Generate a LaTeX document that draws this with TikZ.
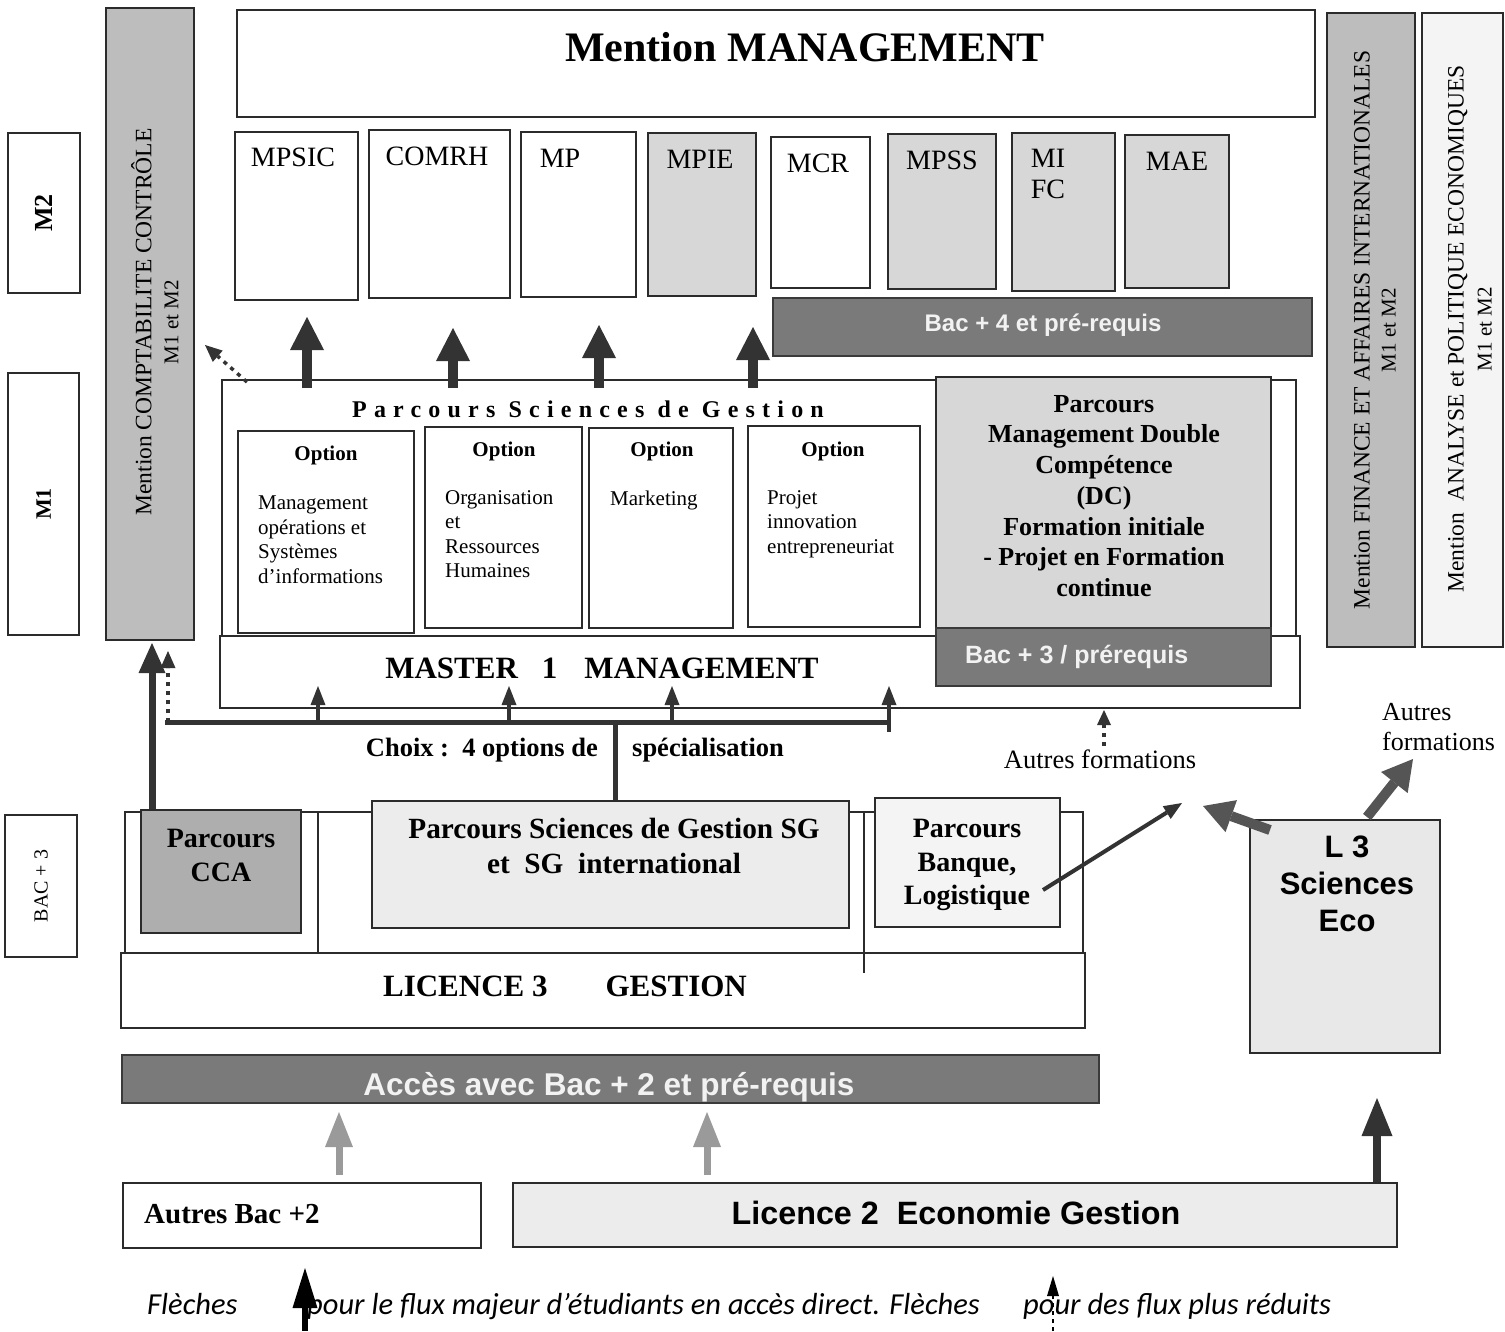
\documentclass[tikz,border=0pt]{standalone}
\usepackage{fontspec}
\setmainfont{Liberation Serif}
\newfontfamily\arialf{Liberation Sans}
\newfontfamily\legendf{Carlito}
\newfontfamily\spacedf[LetterSpace=30]{Liberation Serif}
\usetikzlibrary{arrows.meta,fit}
\newcommand\fsz[2]{\fontsize{#1pt}{#2pt}\selectfont}

\definecolor{edge}{HTML}{2B2B2B}
\definecolor{midgray}{HTML}{BDBDBD}
\definecolor{softgray}{HTML}{D7D7D7}
\definecolor{palegray}{HTML}{ECECEC}
\definecolor{faintgray}{HTML}{F4F4F4}
\definecolor{bargray}{HTML}{7A7A7A}
\definecolor{bardark}{HTML}{3A3A3A}
\definecolor{bartext}{HTML}{F2F2F2}
\definecolor{arrowdark}{HTML}{333333}
\definecolor{arrowmid}{HTML}{555555}
\definecolor{arrowlight}{HTML}{9A9A9A}

\begin{document}
\begin{tikzpicture}[x=1pt,y=-1pt,
  frame/.style={draw=edge, line width=2pt, inner sep=0pt},
  thinframe/.style={draw=edge, line width=1.3pt, inner sep=0pt},
  bar/.style={draw=bardark, line width=2.5pt, fill=bargray, inner sep=0pt},
  lbl/.style={inner sep=0pt, text=black},
  bartxt/.style={inner sep=0pt, text=bartext, font=\arialf\bfseries\fsz{24}{28}},
  bigup/.style={draw=arrowdark, line width=10pt, -{Triangle[width=34pt,length=33pt,line width=0pt]}},
  smallup/.style={draw=arrowdark, line width=4pt, -{Triangle[width=15pt,length=19pt,line width=0pt]}},
  dotup/.style={draw=arrowdark, line width=4pt, dash pattern=on 4pt off 5pt, -{Triangle[width=15pt,length=17pt,line width=0pt]}},
  grayup/.style={draw=arrowlight, line width=7pt, -{Triangle[width=28pt,length=35pt,line width=0pt]}},
  fatgray/.style={draw=arrowmid, line width=10pt, -{Triangle[width=34pt,length=30pt,line width=0pt]}},
]
\useasboundingbox (0,0) rectangle (1505,1331);
\fill[white] (0,0) rectangle (1505,1331);

% ---- level labels on the left
\node[frame, fit={(8,133)(80,293)}] (lvm2) {};
\node[lbl, rotate=90, font=\bfseries\fsz{26}{30}] (lvm2-t) at (lvm2.center) {M2};
\node[frame, fit={(8,373)(79,635)}] (lvm1) {};
\node[lbl, rotate=90, font=\bfseries\fsz{22}{26}] (lvm1-t) at (lvm1.center) {M1};
\node[frame, fit={(5,815)(77,957)}] (lvl3) {};
\node[lbl, rotate=90, font=\fsz{20}{24}] (lvl3-t) at (lvl3.center) {BAC + 3};

% ---- side mentions
\node[frame, fill=midgray, fit={(106,8)(194,640)}] (compta) {};
\node[lbl, rotate=90, align=center, font=\fsz{23.5}{27}] (compta-t) at (155,322)
  {Mention COMPTABILITE CONTRÔLE\\{\fsz{21}{27}M1 et M2}};
\node[frame, fill=midgray, fit={(1327,13)(1415,647)}] (finance) {};
\node[lbl, rotate=90, align=center, font=\fsz{23.5}{26}] (finance-t) at (1375,330)
  {Mention FINANCE ET AFFAIRES INTERNATIONALES\\{\fsz{21}{26}M1 et M2}};
\node[frame, fill=faintgray, fit={(1422,13)(1503,647)}] (analyse) {};
\node[lbl, rotate=90, align=center, font=\fsz{23.5}{28}] (analyse-t) at (1470,329)
  {Mention\ \ ANALYSE et POLITIQUE ECONOMIQUES\\{\fsz{21}{28}M1 et M2}};

% ---- mention management and its masters
\node[frame, fit={(237,10)(1315,117)}] (mgmt) {};
\node[lbl, font=\bfseries\fsz{42}{48}] (mgmt-t) at (805,47) {Mention MANAGEMENT};

\node[frame, fit={(235,132)(358,300)}] (mpsic) {};
\node[frame, fit={(369,130)(510,298)}] (comrh) {};
\node[frame, fit={(521,132)(636,297)}] (mp) {};
\node[frame, fill=softgray, fit={(648,133)(756,296)}] (mpie) {};
\node[frame, fit={(771,137)(870,288)}] (mcr) {};
\node[frame, fill=softgray, fit={(888,134)(996,289)}] (mpss) {};
\node[frame, fill=softgray, fit={(1012,133)(1115,291)}] (mifc) {};
\node[frame, fill=softgray, fit={(1125,135)(1229,288)}] (mae) {};
\begin{scope}[every node/.style={lbl, font=\fsz{28}{31}, anchor=base}]
  \node (mpsic-t) at (293,166) {MPSIC};
  \node (comrh-t) at (437,165) {COMRH};
  \node (mp-t) at (560,167) {MP};
  \node (mpie-t) at (700,168) {MPIE};
  \node (mcr-t) at (818,172) {MCR};
  \node (mpss-t) at (942,169) {MPSS};
  \node (mae-t) at (1177,170) {MAE};
  \node[anchor=north, align=center] (mifc-t) at (1048,149) {MI\\FC};
\end{scope}

\node[bar, fit={(773,298)(1312,356)}] (bac4) {};
\node[bartxt, anchor=base] (bac4-t) at (1043,331) {Bac + 4 et pré-requis};

% ---- master 1
\node[frame, fit={(222,380)(1296,636)}] (sgm1) {};
\node[frame, fit={(220,636)(1300,708)}] (m1) {};
\node[lbl, font=\bfseries\fsz{31}{36}] (m1-t) at (602,668) {MASTER\hspace{24pt}1\hspace{27pt}MANAGEMENT};
\node[lbl, anchor=base, font=\spacedf\bfseries\fsz{24}{28}] (sgm1-t) at (588,417) {Parcours Sciences de Gestion};

\node[frame, fit={(238,431)(414,633)}] (opt1) {};
\node[frame, fit={(425,427)(582,628)}] (opt2) {};
\node[frame, fit={(589,428)(733,628)}] (opt3) {};
\node[frame, fit={(748,426)(920,627)}] (opt4) {};
\begin{scope}[every node/.style={lbl, font=\bfseries\fsz{21}{25}, anchor=north}]
  \node (opt1-h) at (326,446) {Option};
  \node (opt2-h) at (504,442) {Option};
  \node (opt3-h) at (662,442) {Option};
  \node (opt4-h) at (833,442) {Option};
\end{scope}
\begin{scope}[every node/.style={lbl, font=\fsz{21}{24.5}, anchor=north west, align=left}]
  \node (opt1-t) at (258,496) {Management\\opérations et\\Systèmes\\d’informations};
  \node (opt2-t) at (445,490) {Organisation\\et\\Ressources\\Humaines};
  \node (opt3-t) at (610,491) {Marketing};
  \node (opt4-t) at (767,490) {Projet\\innovation\\entrepreneuriat};
\end{scope}

\node[frame, fill=softgray, fit={(936,377)(1271,628)}] (dc) {};
\node[lbl, anchor=north, align=center, font=\bfseries\fsz{26}{30.7}] (dc-t) at (1104,395)
  {Parcours\\Management Double\\Compétence\\(DC)\\Formation initiale\\- Projet en Formation\\continue};
\node[bar, fit={(936,628)(1271,686)}] (bac3) {};
\node[bartxt, anchor=base west, font=\arialf\bfseries\fsz{25}{29}] (bac3-t) at (965,663) {Bac + 3 / prérequis};

% ---- licence 3
\node[thinframe, fit={(125,812)(1083,953)}] (l3top) {};
\coordinate (sep1a) at (318,812); \coordinate (sep1b) at (318,953);
\coordinate (sep2a) at (864,812); \coordinate (sep2b) at (864,973);
\draw[edge, line width=1.3pt] (sep1a) -- (sep1b);
\node[frame, fit={(121,953)(1085,1028)}] (l3) {};
\draw[edge, line width=1.3pt] (sep2a) -- (sep2b);
\node[lbl, font=\bfseries\fsz{31}{36}] (l3-t) at (565,986) {LICENCE 3\hspace{58pt}GESTION};

\node[frame, fill=midgray!92!black, fit={(141,810)(301,933)}] (cca) {};
\node[lbl, align=center, font=\bfseries\fsz{28}{34}] (cca-t) at (221,855) {Parcours\\CCA};
\node[frame, fill=palegray, fit={(372,801)(849,928)}] (sg) {};
\node[lbl, align=center, font=\bfseries\fsz{29.3}{35}] (sg-t) at (614,846) {Parcours Sciences de Gestion SG\\et\ \ SG\ \ international};
\node[frame, fill=faintgray, fit={(875,798)(1060,927)}] (banque) {};
\node[lbl, anchor=north, align=center, font=\bfseries\fsz{28}{33.5}] (banque-t) at (967,819) {Parcours\\Banque,\\Logistique};

\node[bar, fit={(122,1055)(1099,1103)}] (acces) {};
\node[bartxt, anchor=base, font=\arialf\bfseries\fsz{31.5}{34}] (acces-t) at (609,1095) {Accès avec Bac + 2 et pré-requis};

\node[frame, fill=palegray!80!softgray, fit={(1250,820)(1440,1053)}] (l3eco) {};
\node[lbl, anchor=north, align=center, font=\arialf\bfseries\fsz{31}{37}] (l3eco-t) at (1347,836) {L 3\\Sciences\\Eco};

% ---- licence 2 and other entries
\node[frame, fit={(123,1183)(481,1248)}] (autres) {};
\node[lbl, anchor=base west, font=\bfseries\fsz{29}{34}] (autres-t) at (144,1223) {Autres Bac +2};
\node[frame, fill=palegray, fit={(513,1183)(1397,1247)}] (l2) {};
\node[lbl, anchor=base, font=\arialf\bfseries\fsz{32.3}{36}] (l2-t) at (956,1224) {Licence 2\ \ Economie Gestion};

% ---- free labels
\node[lbl, font=\bfseries\fsz{26.5}{30}, anchor=base east] (choix-a) at (598,756) {Choix :\ \ 4 options de};
\node[lbl, font=\bfseries\fsz{26.5}{30}, anchor=base west] (choix-b) at (632,756) {spécialisation};
\node[lbl, font=\fsz{26.5}{30}, anchor=base] (autresf1) at (1100,768) {Autres formations};
\node[lbl, font=\fsz{26}{30}, anchor=north west, align=left] (autresf2) at (1382,703) {Autres\\formations};

% ---- flows towards the masters
\coordinate (u1a) at (307,388); \coordinate (u1b) at (307,317);
\coordinate (u2a) at (453,388); \coordinate (u2b) at (453,328);
\coordinate (u3a) at (599,388); \coordinate (u3b) at (599,325);
\coordinate (u4a) at (753,388); \coordinate (u4b) at (753,327);
\foreach \i in {1,...,4} \draw[bigup] (u\i a) -- (u\i b);
\coordinate (cc1) at (247,382); \coordinate (cc2) at (205,345);
\draw[dotup, line width=3.5pt] (cc1) -- (cc2);

% ---- choice of options in master 1
\coordinate (chl) at (165,722); \coordinate (chr) at (889,722);
\coordinate (chm) at (615,722);
\draw[arrowdark, line width=5pt] (chl) -- (chr);
\draw[arrowdark, line width=5pt] (chm) -- (chm |- sg.north);
\foreach \x in {318,509,672} \draw[smallup] (\x,724) -- (\x,686);
\draw[smallup] (889,732) -- (889,686);

% ---- flows into comptabilite controle
\coordinate (ccaup) at (152,643);
\draw[draw=arrowdark, line width=7pt, -{Triangle[width=27pt,length=30pt,line width=0pt]}] (cca.north -| ccaup) -- (ccaup);
\coordinate (dotfoot) at (168,722); \coordinate (dottip) at (168,651);
\draw[dotup] (dotfoot) -- (dottip);

% ---- flows out of licence 3
\coordinate (bqs) at (1043,890); \coordinate (bqe) at (1182,803);
\draw[draw=arrowdark, line width=4pt, -{Triangle[width=15pt,length=18pt,line width=0pt]}] (bqs) -- (bqe);
\coordinate (ecoa) at (1270,830); \coordinate (ecob) at (1203,806);
\draw[fatgray] (ecoa) -- (ecob);
\coordinate (ecoc) at (1367,817); \coordinate (ecod) at (1413,759);
\draw[fatgray] (ecoc) -- (ecod);
\coordinate (afa) at (1104,746); \coordinate (afb) at (1104,710);
\draw[dotup, line width=3.5pt, -{Triangle[width=14pt,length=15pt,line width=0pt]}] (afa) -- (afb);

% ---- flows into licence 3
\coordinate (g1a) at (339,1175); \coordinate (g1b) at (339,1112);
\coordinate (g2a) at (707,1175); \coordinate (g2b) at (707,1112);
\draw[grayup] (g1a) -- (g1b);
\draw[grayup] (g2a) -- (g2b);
\coordinate (ecotip) at (1377,1098);
\draw[draw=arrowdark, line width=8pt, -{Triangle[width=31pt,length=38pt,line width=0pt]}] (l2.north -| ecotip) -- (ecotip);

% ---- legend
\begin{scope}[every node/.style={lbl, anchor=base west, font=\legendf\itshape\fsz{30.5}{34}}]
  \node (leg1) at (147,1314) {Flèches};
  \node (leg2) at (307,1314) {pour le flux majeur d’étudiants en accès direct. Flèches};
  \node (leg3) at (1023,1314) {pour des flux plus réduits};
\end{scope}
\coordinate (lga) at (305,1331); \coordinate (lgb) at (305,1268);
\draw[draw=black, line width=6pt, -{Triangle[width=25pt,length=40pt,line width=0pt]}] (lga) -- (lgb);
\coordinate (lda) at (1053,1331); \coordinate (ldb) at (1053,1276);
\draw[draw=black, line width=2.5pt, dash pattern=on 4pt off 4pt, -{Triangle[width=12pt,length=20pt,line width=0pt]}] (lda) -- (ldb);
\end{tikzpicture}
\end{document}
